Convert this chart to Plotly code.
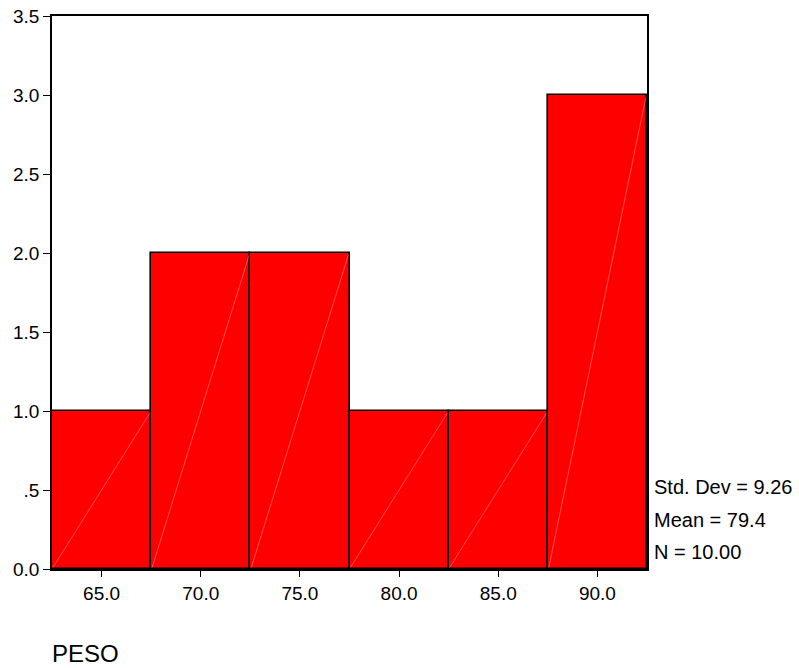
import plotly.graph_objects as go

# Histogram of PESO (bin width 5)
bin_centers = [65.0, 70.0, 75.0, 80.0, 85.0, 90.0]
counts = [1, 2, 2, 1, 1, 3]
bin_width = 5.0
x_tick_labels = ["65.0", "70.0", "75.0", "80.0", "85.0", "90.0"]
y_tick_vals = [0, 0.5, 1.0, 1.5, 2.0, 2.5, 3.0, 3.5]
y_tick_labels = ["0.0", ".5", "1.0", "1.5", "2.0", "2.5", "3.0", "3.5"]
stats_lines = ["Std. Dev = 9.26", "Mean = 79.4", "N = 10.00"]
var_name = "PESO"

FONT = "Liberation Sans, Arial, Helvetica, sans-serif"

fig = go.Figure()
fig.add_trace(go.Bar(
    x=bin_centers, y=counts, width=bin_width,
    marker=dict(color="#ff0000", line=dict(color="black", width=1.6)),
    hoverinfo="skip", showlegend=False,
))

# faint diagonal seams across each bar
for c, n in zip(bin_centers, counts):
    fig.add_trace(go.Scatter(
        x=[c - bin_width / 2 + 0.05, c + bin_width / 2 - 0.05], y=[0.01, n - 0.01],
        mode="lines", line=dict(color="rgba(255,190,190,0.7)", width=0.6),
        hoverinfo="skip", showlegend=False,
    ))

fig.update_layout(
    width=799, height=668,
    margin=dict(l=52, r=152, t=16, b=99, autoexpand=False),
    paper_bgcolor="white", plot_bgcolor="white",
    font=dict(family=FONT, size=14, color="black"),
    bargap=0,
    xaxis=dict(
        range=[62.5, 92.5], tickvals=bin_centers, ticktext=x_tick_labels,
        ticks="outside", ticklen=6, tickwidth=1.2, tickcolor="black",
        showline=True, linecolor="black", linewidth=1.6, mirror=True,
        showgrid=False, zeroline=False, tickfont=dict(size=19), automargin=False,
    ),
    yaxis=dict(
        range=[0, 3.5], tickvals=y_tick_vals, ticktext=y_tick_labels,
        ticks="outside", ticklen=7, tickwidth=1.2, tickcolor="black",
        showline=True, linecolor="black", linewidth=1.6, mirror=True,
        showgrid=False, zeroline=False, tickfont=dict(size=19), automargin=False,
    ),
)

for i, line in enumerate(stats_lines):
    fig.add_annotation(
        xref="paper", yref="paper", x=1.0, y=(569 - 487 - i * 32.5) / 553,
        xshift=5, text=line, showarrow=False, xanchor="left", yanchor="middle",
        font=dict(size=20, family=FONT),
    )

fig.add_annotation(
    xref="paper", yref="paper", x=0, y=-(653 - 569) / 553,
    text=var_name, showarrow=False, xanchor="left", yanchor="middle",
    xshift=-2, font=dict(size=24, family=FONT),
)

fig.write_html("out.html")
